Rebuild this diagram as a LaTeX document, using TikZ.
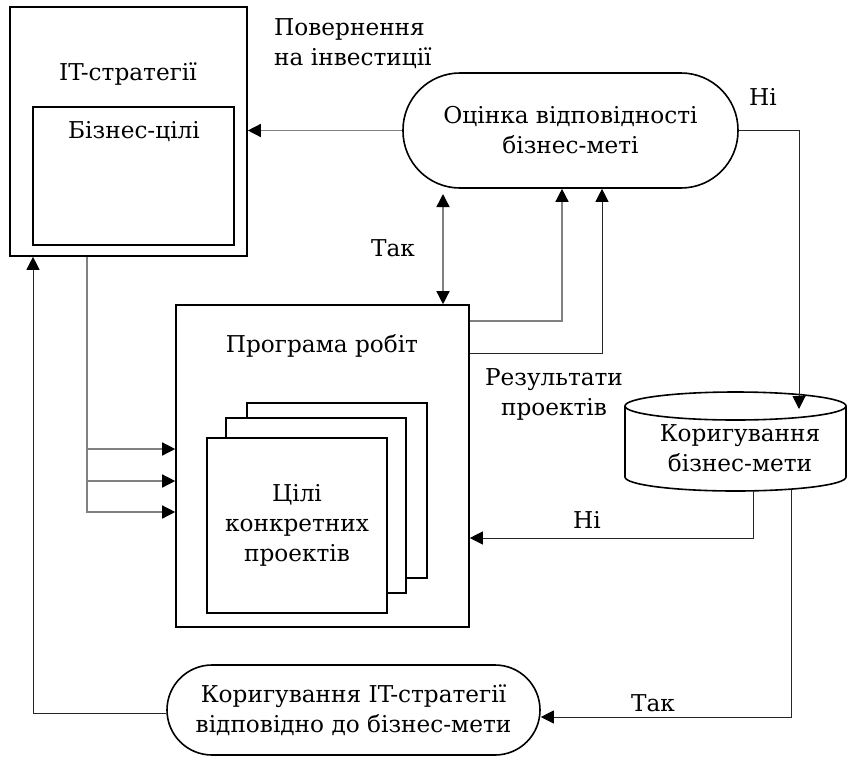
\documentclass[tikz,border=0pt]{standalone}
\usepackage{fontspec}
\setmainfont{DejaVu Serif}
\usetikzlibrary{arrows.meta}
\begin{document}
\begin{tikzpicture}[x=1pt,y=-1pt,
  box/.style={draw, line width=1.6pt, fill=white, inner sep=0pt},
  txt/.style={font=\fontsize{23.2}{30}\selectfont, inner sep=0pt},
  conn/.style={line width=1pt, draw=black!85},
  gconn/.style={line width=1.4pt, draw=black!50},
  tip/.style={-{Triangle[length=13pt,width=13pt,color=black]}},
  dtip/.style={{Triangle[length=13pt,width=13pt,color=black]}-{Triangle[length=13pt,width=13pt,color=black]}},
]
\path[use as bounding box] (0,0) rectangle (849,756);

% IT strategy
\node[box, minimum width=237pt, minimum height=249pt] (its) at (128.5,131.5) {};
\node[box, minimum width=201pt, minimum height=138pt] (biz) at (133.5,176) {};
\node[txt, anchor=base] (itslbl) at (128,80) {IT-стратегії};
\node[txt, anchor=base] (bizlbl) at (134,138) {Бізнес-цілі};

% return label
\node[txt, align=left, anchor=north west] (roi) at (274,18.1) {Повернення\\на інвестиції};

% assessment
\node[box, txt, rounded corners=57pt, minimum width=335pt, minimum height=115pt, align=center] (assess) at (570.5,130.5) {Оцінка відповідності\\бізнес-меті};

% program of works
\node[box, minimum width=293pt, minimum height=322pt] (pr) at (322.5,466) {};
\node[txt, anchor=base] (prlbl) at (322,352) {Програма робіт};
\node[box, minimum width=180pt, minimum height=175pt] (back) at (337,490.5) {};
\node[box, minimum width=180pt, minimum height=175pt] (mid) at (316,505.5) {};
\node[box, txt, align=center, minimum width=180pt, minimum height=175pt] (front) at (297,525.5) {Цілі\\конкретних\\проектів};

% results label
\node[txt, align=center, anchor=north] (res) at (554,368) {Результати\\проектів};

% cylinder
\draw[line width=1.6pt, fill=white] (625,406) -- (625,477)
  arc[start angle=180, end angle=360, x radius=110.5pt, y radius=14pt] -- (846,406)
  arc[start angle=0, end angle=180, x radius=110.5pt, y radius=14pt] -- cycle;
\draw[line width=1.6pt] (625,406) arc[start angle=180, end angle=360, x radius=110.5pt, y radius=14pt];
\node[txt, align=center] (corr) at (740,448.5) {Коригування\\бізнес-мети};
\coordinate (cyltop) at (799,409);
\coordinate (cylb1) at (753,491);
\coordinate (cylb2) at (791,490);

% fix IT strategy
\node[box, txt, rounded corners=45pt, minimum width=373pt, minimum height=90pt, align=center] (fix) at (353.5,710) {Коригування IT-стратегії\\відповідно до бізнес-мети};

% connectors
\draw[gconn, tip] (assess.west) -- (assess.west -| its.east);
\draw[conn, tip] (assess.east) -| (cyltop);
\node[txt, anchor=base] (ni1) at (763,105) {Ні};

\coordinate (dtop) at (443,194);
\draw[gconn, dtip] (dtop) -- (dtop |- pr.north);
\node[txt, anchor=base] (tak1) at (393,256) {Так};

\draw[gconn, tip] (pr.east |- 0,321) -| (assess.south -| 562,0);
\draw[conn, tip] (pr.east |- 0,353) -| (assess.south -| 602,0);

\draw[gconn, tip] (its.south -| 87,0) |- (pr.west |- 0,512);
\draw[gconn, tip] (87,449) -- (pr.west |- 0,449);
\draw[gconn, tip] (87,481) -- (pr.west |- 0,481);

\draw[conn, tip] (cylb1) |- (pr.east |- 0,538);
\node[txt, anchor=base] (ni2) at (587,528) {Ні};

\draw[conn, tip] (cylb2) |- (fix.east |- 0,717);
\node[txt, anchor=base] (tak2) at (653,711) {Так};

\draw[conn, tip] (fix.west |- 0,713) -| (its.south -| 33,0);
\end{tikzpicture}
\end{document}
